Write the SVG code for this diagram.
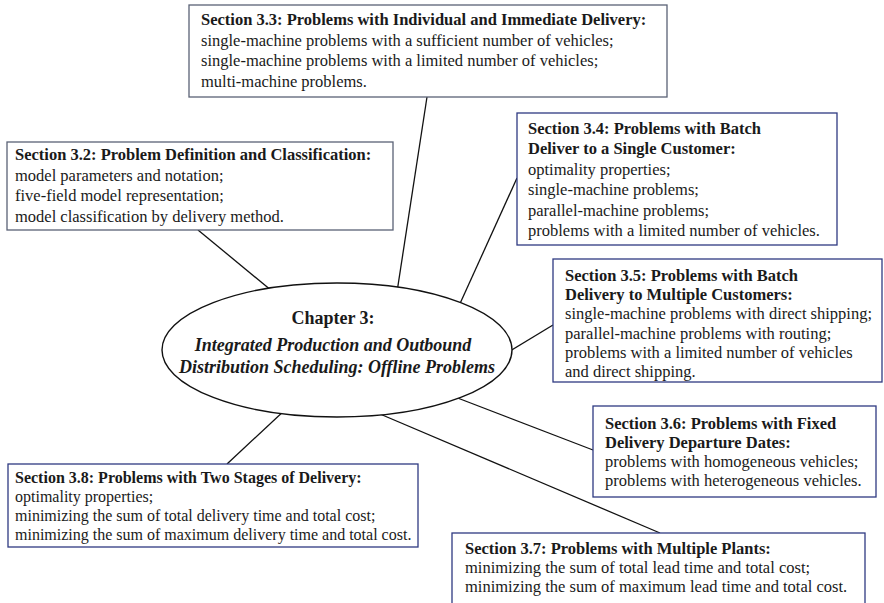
<svg xmlns="http://www.w3.org/2000/svg" width="884" height="603" viewBox="0 0 884 603">
  <style>
    text { font-family: "Liberation Serif", "Times New Roman", serif; font-size: 16.5px; fill: #1a1a1a; }
    .h { font-weight: bold; }
    .sm { font-size: 16px; }
    .box { fill: #ffffff; stroke-width: 1.3; }
    .grey { stroke: #5a6276; }
    .navy { stroke: #2f3a82; }
    .conn { stroke: #111111; stroke-width: 1.3; fill: none; }
    .hub { fill: #ffffff; stroke: #111111; stroke-width: 1.4; }
    .hubtxt { font-size: 18px; font-weight: bold; text-anchor: middle; }
    .it { font-style: italic; }
  </style>

  <rect width="884" height="603" fill="#ffffff"/>

  <!-- connectors from the chapter hub to each section -->
  <g id="connectors">
    <line class="conn" x1="198" y1="230" x2="272" y2="291"/>
    <line class="conn" x1="427" y1="97" x2="397" y2="292"/>
    <line class="conn" x1="517" y1="178" x2="458" y2="308"/>
    <line class="conn" x1="553" y1="325" x2="505" y2="354"/>
    <line class="conn" x1="593" y1="450" x2="455" y2="397"/>
    <line class="conn" x1="660" y1="533" x2="380" y2="414"/>
    <line class="conn" x1="227" y1="464" x2="286" y2="409"/>
  </g>

  <!-- central chapter node -->
  <g id="chapter3">
    <ellipse class="hub" cx="337" cy="350" rx="175" ry="67"/>
    <text class="hubtxt" x="333" y="324">Chapter 3:</text>
    <text class="hubtxt it" x="333" y="351">Integrated Production and Outbound</text>
    <text class="hubtxt it" x="337" y="373">Distribution Scheduling: Offline Problems</text>
  </g>

  <g id="section3_3">
    <rect class="box grey" x="189" y="5" width="478" height="92"/>
    <text class="h" x="201" y="25">Section 3.3: Problems with Individual and Immediate Delivery:</text>
    <text x="201" y="45.7">single-machine problems with a sufficient number of vehicles;</text>
    <text x="201" y="66.4">single-machine problems with a limited number of vehicles;</text>
    <text x="201" y="87">multi-machine problems.</text>
  </g>

  <g id="section3_2">
    <rect class="box grey" x="7" y="142" width="386" height="88"/>
    <text class="h" x="15" y="160">Section 3.2: Problem Definition and Classification:</text>
    <text x="15" y="180.5">model parameters and notation;</text>
    <text x="15" y="201">five-field model representation;</text>
    <text x="15" y="221.5">model classification by delivery method.</text>
  </g>

  <g id="section3_4">
    <rect class="box navy" x="517" y="113" width="320" height="132"/>
    <text class="h" x="528" y="133.5">Section 3.4: Problems with Batch</text>
    <text class="h" x="528" y="154">Deliver to a Single Customer:</text>
    <text x="528" y="174.5">optimality properties;</text>
    <text x="528" y="195">single-machine problems;</text>
    <text x="528" y="215.5">parallel-machine problems;</text>
    <text x="528" y="236">problems with a limited number of vehicles.</text>
  </g>

  <g id="section3_5">
    <rect class="box navy" x="553" y="259" width="329" height="123"/>
    <text class="h" x="565" y="281">Section 3.5: Problems with Batch</text>
    <text class="h" x="565" y="300.2">Delivery to Multiple Customers:</text>
    <text x="565" y="319.4">single-machine problems with direct shipping;</text>
    <text x="565" y="338.6">parallel-machine problems with routing;</text>
    <text x="565" y="357.8">problems with a limited number of vehicles</text>
    <text x="565" y="377">and direct shipping.</text>
  </g>

  <g id="section3_6">
    <rect class="box navy" x="593" y="406" width="283" height="91"/>
    <text class="h" x="605" y="428.5">Section 3.6: Problems with Fixed</text>
    <text class="h" x="605" y="447.7">Delivery Departure Dates:</text>
    <text x="605" y="466.9">problems with homogeneous vehicles;</text>
    <text x="605" y="486">problems with heterogeneous vehicles.</text>
  </g>

  <g id="section3_8">
    <rect class="box navy" x="8" y="464" width="410" height="83"/>
    <text class="h sm" x="15" y="483">Section 3.8: Problems with Two Stages of Delivery:</text>
    <text class="sm" x="15" y="502">optimality properties;</text>
    <text class="sm" x="15" y="521">minimizing the sum of total delivery time and total cost;</text>
    <text class="sm" x="15" y="540">minimizing the sum of maximum delivery time and total cost.</text>
  </g>

  <g id="section3_7">
    <rect class="box navy" x="452" y="533" width="413" height="80"/>
    <text class="h" x="465" y="554">Section 3.7: Problems with Multiple Plants:</text>
    <text x="465" y="573">minimizing the sum of total lead time and total cost;</text>
    <text x="465" y="592">minimizing the sum of maximum lead time and total cost.</text>
  </g>
</svg>
